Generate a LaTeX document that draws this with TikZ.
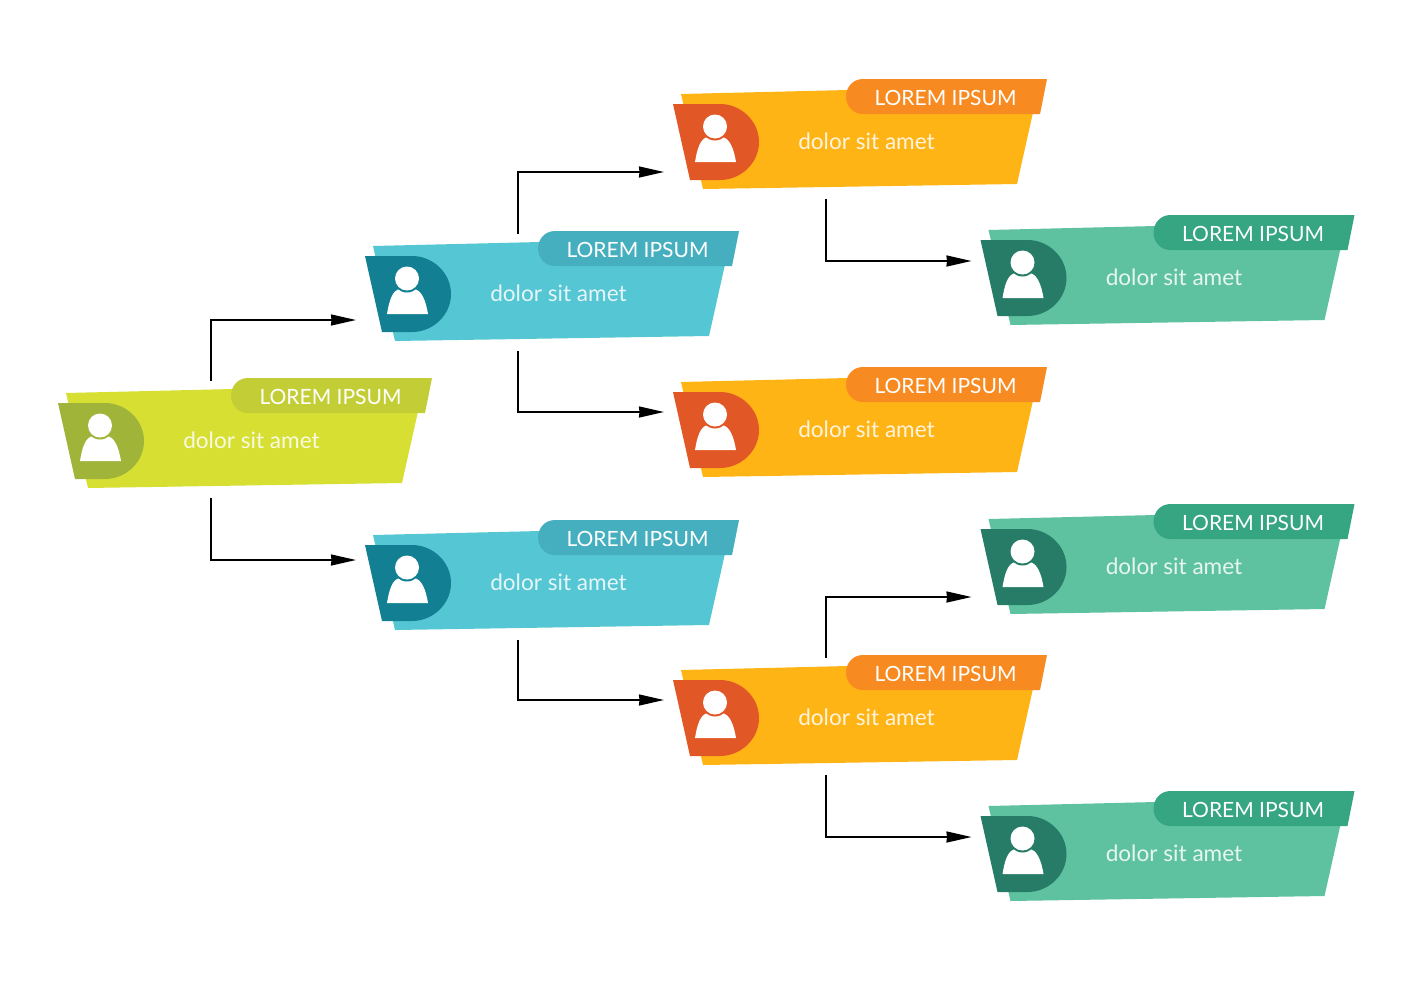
\documentclass[tikz,border=0pt]{standalone}
\usepackage{fontspec}
\setmainfont{Lato}
\usetikzlibrary{arrows.meta}
\definecolor{limemain}{HTML}{D6DF32}
\definecolor{limetab}{HTML}{C3CE36}
\definecolor{limeicon}{HTML}{A0B43A}
\definecolor{bluemain}{HTML}{55C6D3}
\definecolor{bluetab}{HTML}{45AFBF}
\definecolor{blueicon}{HTML}{127F92}
\definecolor{orangemain}{HTML}{FFB416}
\definecolor{orangetab}{HTML}{F78B22}
\definecolor{orangeicon}{HTML}{E25726}
\definecolor{tealmain}{HTML}{5EC2A0}
\definecolor{tealtab}{HTML}{35A582}
\definecolor{tealicon}{HTML}{267C66}
\tikzset{
  title/.style={text=white,font=\fontsize{21}{21}\selectfont},
  subtitle/.style={text=white,opacity=0.85,font=\fontsize{22.6}{22.6}\selectfont},
  link/.style={line width=1.7pt,-{Stealth[length=25pt,width=11pt,inset=0.5pt]}}
}
\begin{document}
\begin{tikzpicture}[x=1pt,y=-1pt]
\useasboundingbox (0,0) rectangle (1412,980);
\foreach \name/\xx/\yy/\iny/\colr in {
  root/58/403/0/lime,
  bluea/365/256/64/blue,
  blueb/365/545/15/blue,
  orangea/673/104/68/orange,
  orangeb/673/392/20/orange,
  orangec/673/680/20/orange,
  teala/980.5/240/21/teal,
  tealb/980.5/529/68/teal,
  tealc/980.5/816/21/teal}{
\begin{scope}[shift={(\xx,\yy)}]
\fill[\colr main] (8,-10) -- (175,-14) -- (361,4) -- (344,80) -- (30,85) -- cycle;
\fill[\colr tab] (374,-25) -- (367,10) -- (190,10) .. controls (180,10) and (173,2) .. (173,-7.5) .. controls (173,-17) and (180,-25) .. (190,-25) -- cycle;
\fill[\colr icon] (0,0) -- (17,76) -- (47,76) .. controls (68,76) and (86,59) .. (86,38) .. controls (86,17) and (68,0) .. (47,0) -- cycle;
\fill[white] (22,58) .. controls (24,46) and (27,33) .. (36,33) -- (48,33) .. controls (57,33) and (61,46) .. (63,58) -- cycle;
\fill[\colr icon] (42,22.5) circle[radius=14];
\fill[white] (42,22.5) circle[radius=12];
\node[title] (\name-title) at (272.5,-6) {LOREM IPSUM};
\node[subtitle] (\name-text) at (193.5,37) {dolor sit amet};
\coordinate (\name-top) at (153,-22);
\coordinate (\name-bot) at (153,95);
\coordinate (\name-in) at (-9,\iny);
\end{scope}
}
\draw[link] (root-top) |- (bluea-in);
\draw[link] (root-bot) |- (blueb-in);
\draw[link] (bluea-top) |- (orangea-in);
\draw[link] (bluea-bot) |- (orangeb-in);
\draw[link] (blueb-bot) |- (orangec-in);
\draw[link] (orangea-bot) |- (teala-in);
\draw[link] (orangec-top) |- (tealb-in);
\draw[link] (orangec-bot) |- (tealc-in);
\end{tikzpicture}
\end{document}
